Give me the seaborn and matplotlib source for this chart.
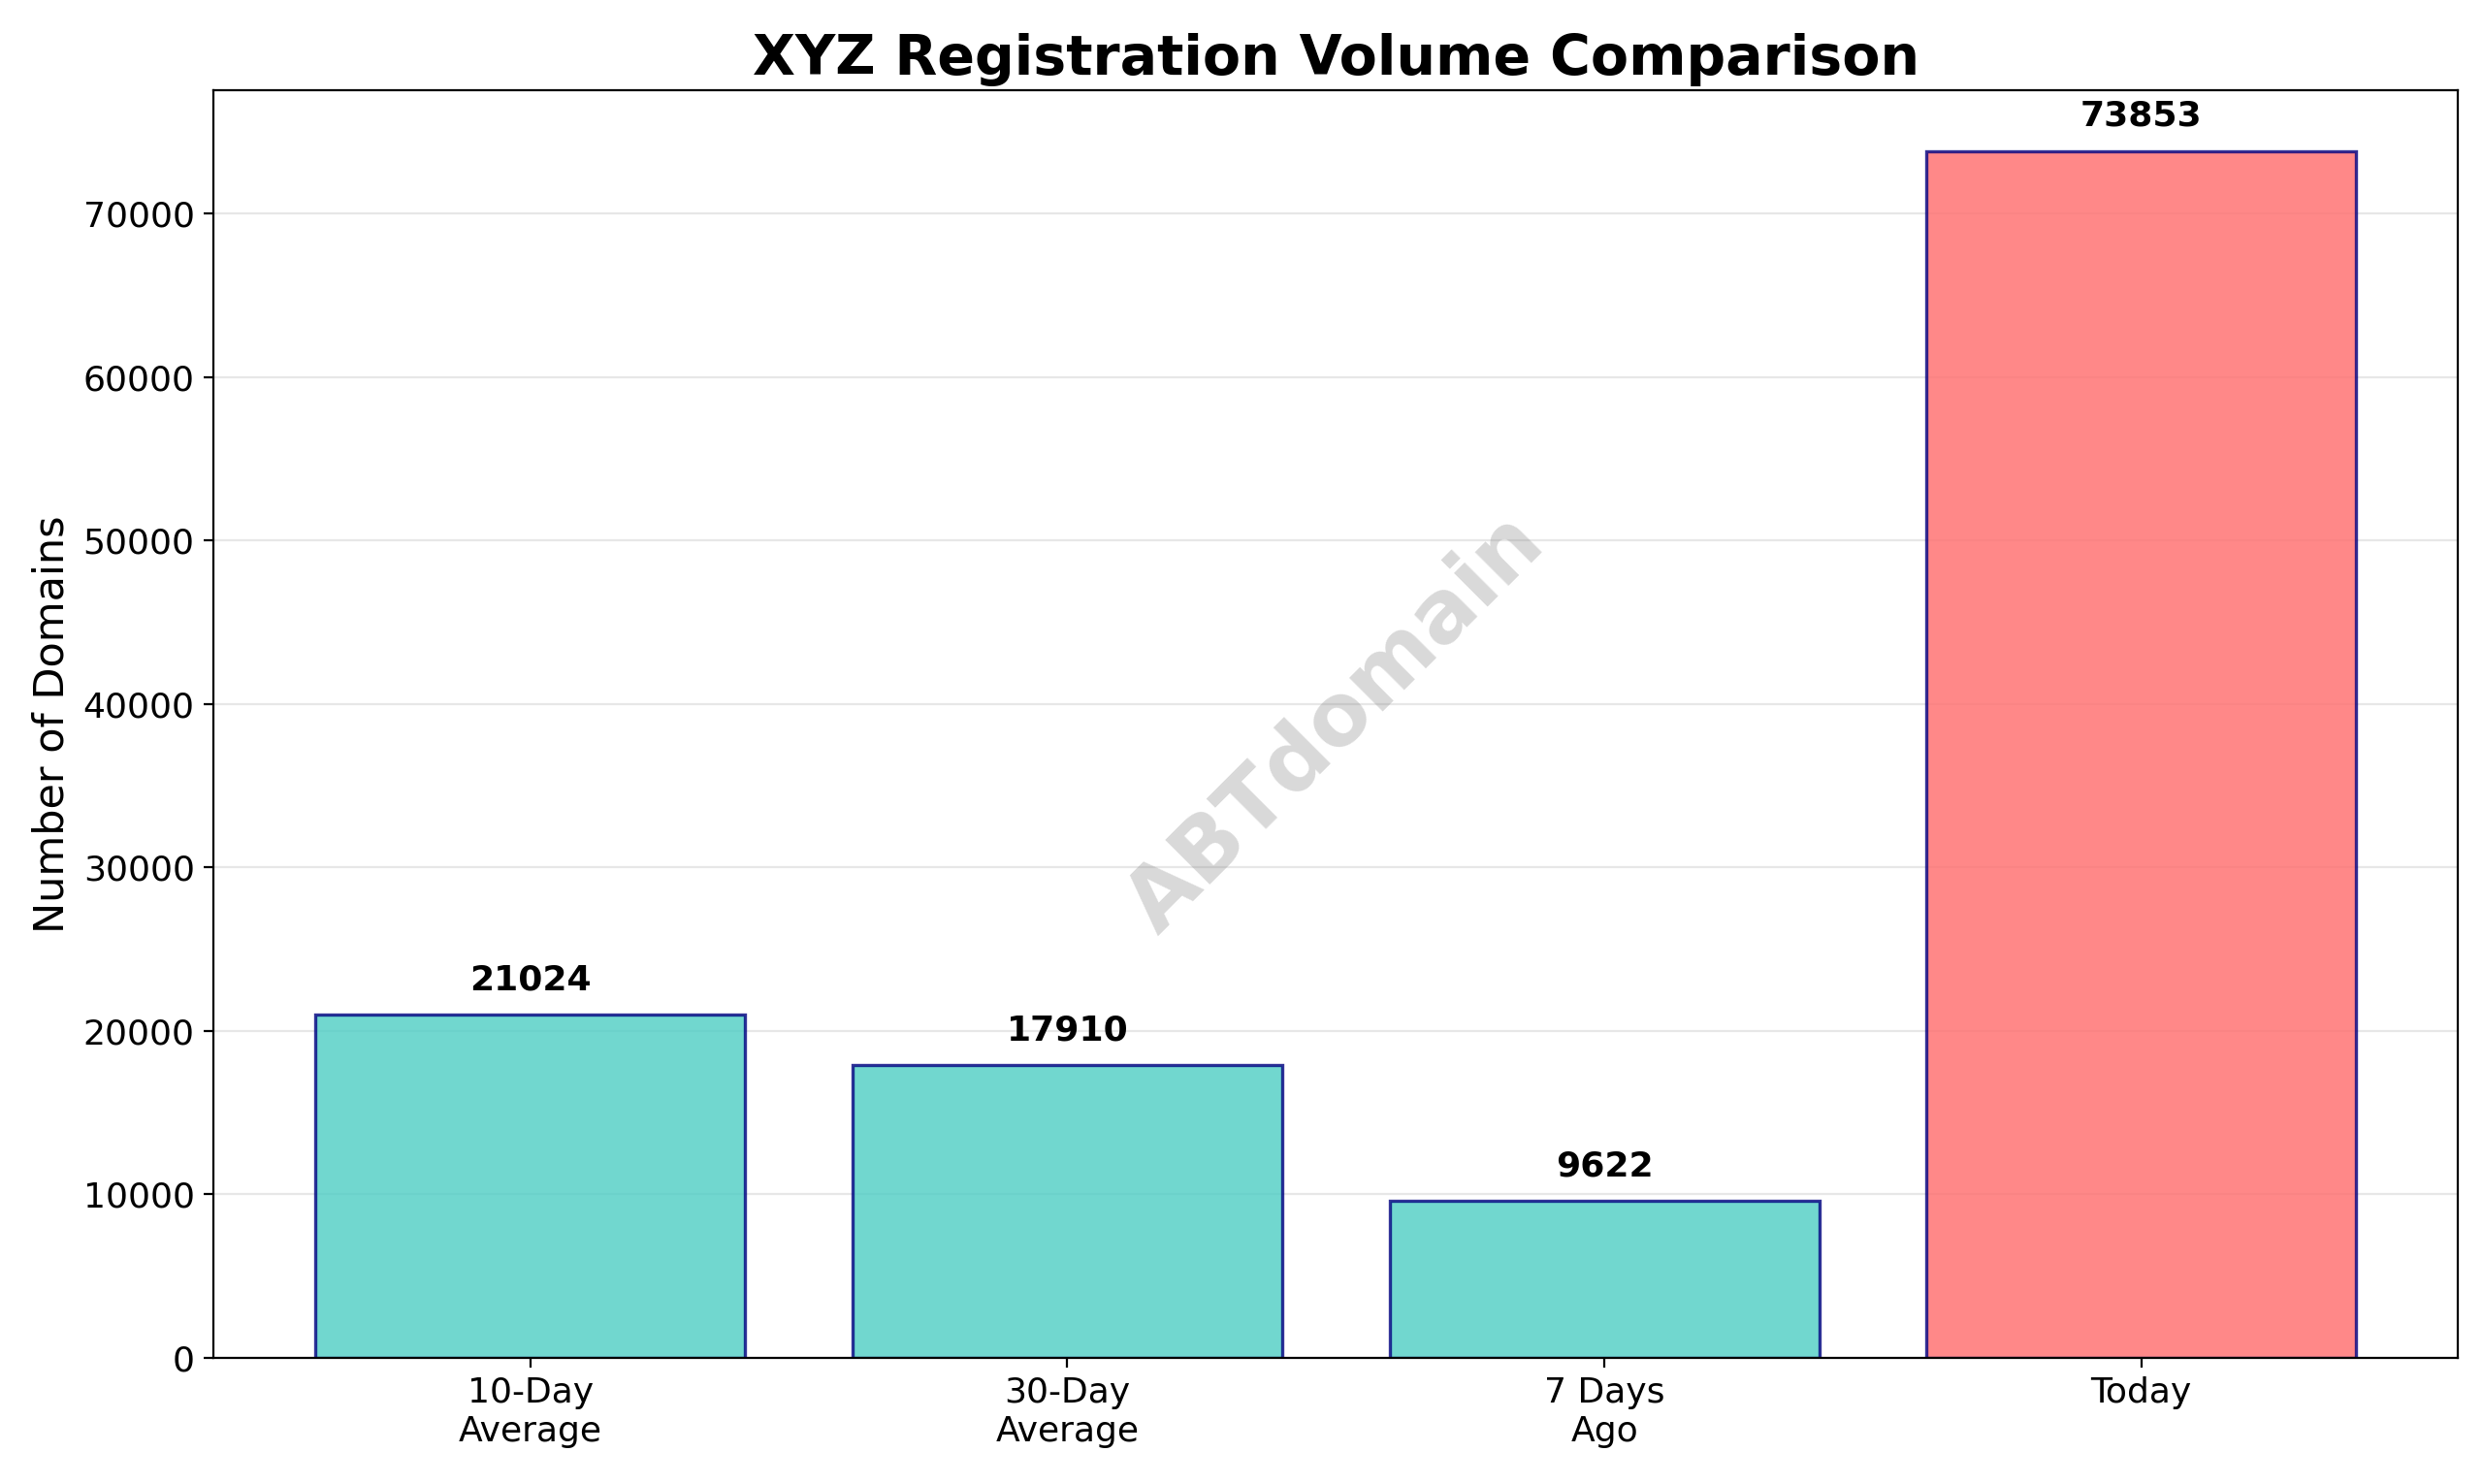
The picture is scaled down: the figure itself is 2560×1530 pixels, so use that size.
import matplotlib
matplotlib.use("Agg")
import matplotlib.pyplot as plt
import seaborn as sns
import pandas

categories = ["10-Day\nAverage", "30-Day\nAverage", "7 Days\nAgo", "Today"]
volumes = [21024, 17910, 9622, 73853]
bar_colors = ["#4ECDC4", "#4ECDC4", "#4ECDC4", "#FF6B6B"]

df = pandas.DataFrame({"Period": categories, "Domains": volumes})

fig = plt.figure(figsize=(12.8, 7.65), dpi=200)
ax = fig.add_axes([0.086, 0.085, 0.904, 0.854])
sns.barplot(data=df, x="Period", y="Domains", hue="Period", palette=bar_colors,
            legend=False, ax=ax, width=0.8, alpha=0.8,
            edgecolor="navy", linewidth=1.2, saturation=1)

for i, v in enumerate(volumes):
    ax.text(i, v + max(volumes) * 0.015, str(v), ha="center", va="bottom",
            fontweight="bold", fontsize=13)

ax.set_xlim(-0.59, 3.59)
ax.set_ylim(0, max(volumes) * 1.05)
ax.set_xlabel("")
ax.set_ylabel("Number of Domains", fontsize=15.5)
ax.set_title("XYZ Registration Volume Comparison", fontsize=20.5, fontweight="bold")
ax.yaxis.grid(True, alpha=0.3)
ax.set_axisbelow(True)
ax.tick_params(labelsize=13)

ax.text(0.5, 0.5, "ABTdomain", transform=ax.transAxes, fontsize=32,
        color="gray", alpha=0.3, fontweight="bold", rotation=45,
        ha="center", va="center")

fig.savefig("out.png")
